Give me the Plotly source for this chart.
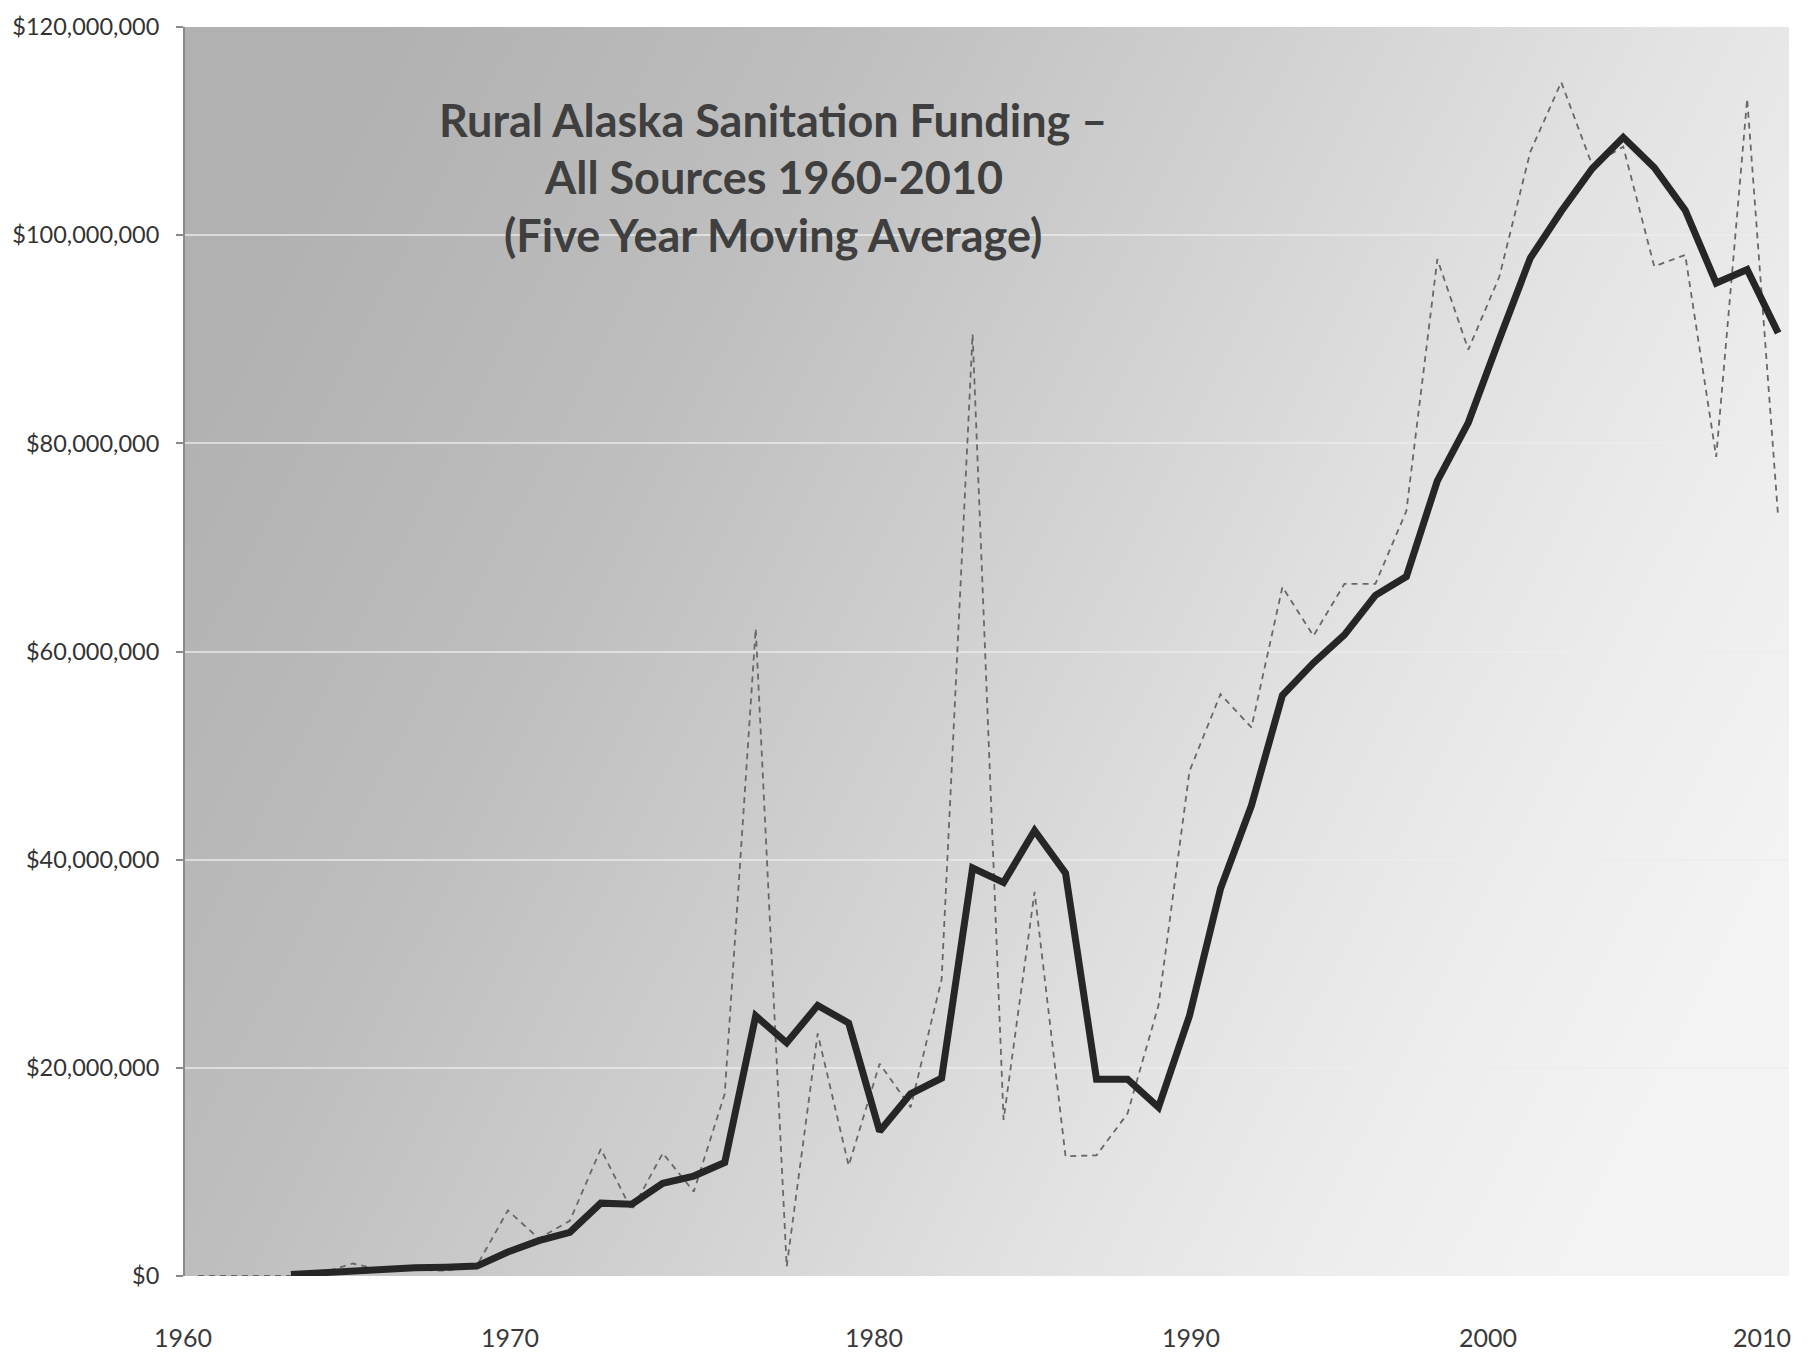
import base64
import plotly.graph_objects as go

# ---------------- data ----------------
years = list(range(1960, 2012))

# annual funding (thin dashed line), $ millions
annual_m = [0, 0, 0, 0, 0.3, 1.2, 0.5, 0.6, 0.5, 1.0,
            6.3, 3.6, 5.3, 12.2, 6.3, 11.8, 8.1, 17.5, 62.2, 0.9,
            23.3, 10.6, 20.4, 16.2, 28.5, 90.5, 15.0, 36.9, 11.5, 11.6,
            15.6, 26.0, 48.5, 55.9, 52.7, 66.2, 61.5, 66.5, 66.5, 73.5,
            97.7, 89.0, 96.0, 108.0, 114.7, 106.7, 108.5, 97.0, 98.1, 78.7,
            113.1, 72.9]

# five year moving average (thick line), $ millions
moving_avg_m = [None, None, None, 0.15, 0.3, 0.6, 0.7, 0.8, 0.85, 0.95,
                2.3, 3.4, 4.2, 7.0, 6.9, 8.9, 9.6, 10.9, 25.0, 22.4,
                26.0, 24.3, 13.9, 17.5, 19.0, 39.2, 37.8, 42.8, 38.7, 18.9,
                18.9, 16.2, 25.0, 37.2, 45.2, 55.8, 58.9, 61.6, 65.4, 67.2,
                76.4, 82.0, 90.0, 97.8, 102.3, 106.4, 109.4, 106.5, 102.4, 95.4,
                96.7, 90.6]

annual = [v * 1e6 for v in annual_m]
moving_avg = [None if v is None else v * 1e6 for v in moving_avg_m]

y_ticks = [0, 20e6, 40e6, 60e6, 80e6, 100e6, 120e6]
x_tick_labels = ["1960", "1970", "1980", "1990", "2000", "2010"]

title_lines = ["Rural Alaska Sanitation Funding \u2013",
               "All Sources 1960-2010",
               "(Five Year Moving Average)"]

X_RANGE = [1959.58, 2011.35]

# ---------------- figure ----------------
fig = go.Figure()

fig.add_trace(go.Scatter(
    x=years, y=annual, mode="lines",
    line=dict(color="#686868", width=1.8, dash="6px,5px"),
    name="Annual", showlegend=False, hoverinfo="x+y"))

fig.add_trace(go.Scatter(
    x=years, y=moving_avg, mode="lines",
    line=dict(color="#262626", width=7),
    name="Five Year Moving Average", showlegend=False,
    connectgaps=False, hoverinfo="x+y"))

# background gradient of the plot area (scanned-paper look)
svg = ("<svg xmlns='http://www.w3.org/2000/svg' width='1600' height='1250' "
       "preserveAspectRatio='none' viewBox='0 0 1600 1250'>"
       "<defs><linearGradient id='g' x1='0' y1='0.3' x2='1' y2='0.7'>"
       "<stop offset='0' stop-color='#b1b1b1'/>"
       "<stop offset='0.25' stop-color='#bebebe'/>"
       "<stop offset='0.5' stop-color='#d2d2d2'/>"
       "<stop offset='0.7' stop-color='#e3e3e3'/>"
       "<stop offset='0.85' stop-color='#ededed'/>"
       "<stop offset='1' stop-color='#f4f4f4'/>"
       "</linearGradient></defs>"
       "<rect x='0' y='0' width='1600' height='1250' fill='url(#g)'/></svg>")
svg_uri = "data:image/svg+xml;base64," + base64.b64encode(svg.encode()).decode()

fig.add_layout_image(dict(
    source=svg_uri, xref="paper", yref="paper", x=0, y=1,
    sizex=1, sizey=1, xanchor="left", yanchor="top",
    sizing="stretch", layer="below", opacity=1))


def to_paper_x(xv):
    return (xv - X_RANGE[0]) / (X_RANGE[1] - X_RANGE[0])


# title inside plot
title_y = [0.9259, 0.8797, 0.8335]
for txt, ty in zip(title_lines, title_y):
    fig.add_annotation(
        text=txt, xref="paper", yref="paper", x=to_paper_x(1978.57), y=ty,
        showarrow=False, xanchor="center", yanchor="middle",
        font=dict(family="Lato", size=45, color="#3f3f3f", weight="bold"))

# x labels (positioned like the free text labels of the original)
x_label_pos = [1959.53, 1970.07, 1981.81, 1992.04, 2001.62, 2010.49]
for lab, xp in zip(x_tick_labels, x_label_pos):
    fig.add_annotation(
        text=lab, xref="paper", yref="paper", x=to_paper_x(xp), y=-0.0486,
        showarrow=False, xanchor="center", yanchor="middle",
        font=dict(family="Lato", size=25, color="#3a3a3a"))

fig.update_layout(
    width=1812, height=1354,
    margin=dict(l=183, r=23, t=21, b=78),
    paper_bgcolor="white",
    plot_bgcolor="rgba(0,0,0,0)",
    showlegend=False,
    font=dict(family="Lato", color="#3a3a3a"),
)

fig.update_xaxes(
    range=X_RANGE, showgrid=False, zeroline=False,
    showline=False, showticklabels=False, ticks="")

fig.update_yaxes(
    range=[0, 120e6], tickvals=y_ticks, tickformat="$,.0f",
    showgrid=True, gridcolor="rgba(236,236,236,0.7)", gridwidth=2,
    zeroline=False, showline=True, linecolor="#8a8a8a", linewidth=2,
    ticks="outside", ticklen=7, tickcolor="#8a8a8a", tickwidth=1.5,
    ticklabelstandoff=12,
    tickfont=dict(family="Lato", size=23.5, color="#333333"))

fig.write_html("out.html")
